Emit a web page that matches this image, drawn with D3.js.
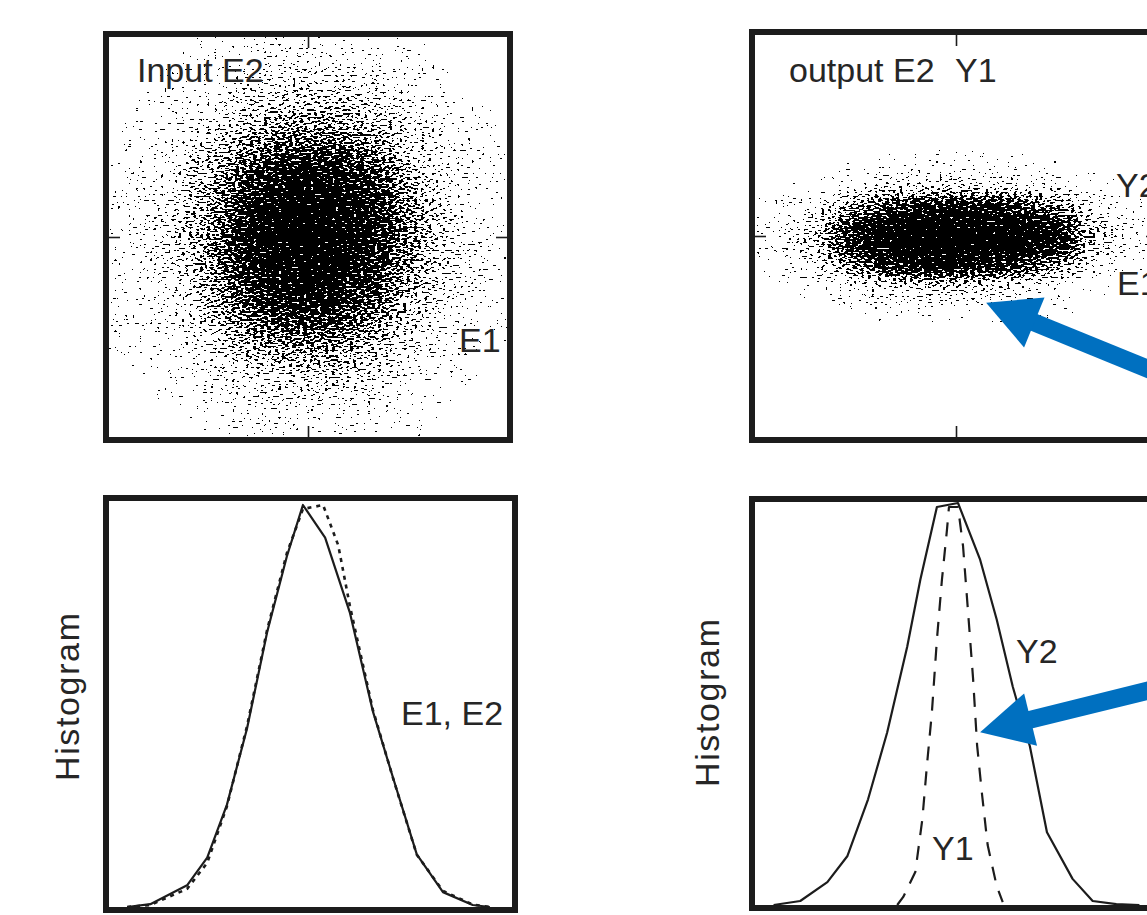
<!DOCTYPE html>
<html lang="en">
<head>
<meta charset="UTF-8" />
<title>Input / output scatter and histograms</title>
<script src="https://cdn.jsdelivr.net/npm/d3@7"></script>
<style>
  body { margin: 0; background: #fff; }
  text { font-family: "Liberation Sans", Arial, Helvetica, sans-serif; fill: #262626; }
</style>
</head>
<body>
<div id="chart"></div>
<script>
// ----------- Data ----------- //

// scatter clouds as density cells (normalised units)
var gridX = [-3.6, -2.8, -2.0, -1.2, -0.4, 0.4, 1.2, 2.0, 2.8, 3.6];

var inputRows = [3.6, 2.8, 2.0, 1.2, 0.4, -0.4, -1.2, -2.0, -2.8, -3.6];
var inputDensity = [
  [0.00, 0.00, 0.04, 0.08, 0.10, 0.12, 0.08, 0.04, 0.00, 0.00],
  [0.00, 0.04, 0.10, 0.20, 0.27, 0.29, 0.22, 0.12, 0.05, 0.00],
  [0.04, 0.08, 0.22, 0.42, 0.55, 0.56, 0.46, 0.26, 0.10, 0.04],
  [0.06, 0.13, 0.36, 0.70, 0.90, 0.90, 0.72, 0.42, 0.15, 0.06],
  [0.08, 0.18, 0.45, 0.85, 1.00, 1.00, 0.88, 0.52, 0.20, 0.07],
  [0.08, 0.18, 0.45, 0.85, 1.00, 1.00, 0.86, 0.50, 0.18, 0.07],
  [0.05, 0.13, 0.36, 0.70, 0.90, 0.88, 0.68, 0.38, 0.13, 0.05],
  [0.04, 0.08, 0.22, 0.44, 0.58, 0.56, 0.44, 0.24, 0.09, 0.03],
  [0.00, 0.04, 0.10, 0.20, 0.27, 0.27, 0.20, 0.11, 0.04, 0.00],
  [0.00, 0.00, 0.03, 0.07, 0.10, 0.10, 0.07, 0.04, 0.00, 0.00]
];

var outputRows = [1.4, 1.0, 0.6, 0.2, -0.2, -0.6, -1.0, -1.4];
var outputDensity = [
  [0.00, 0.00, 0.02, 0.05, 0.07, 0.07, 0.05, 0.02, 0.00, 0.00],
  [0.00, 0.03, 0.10, 0.18, 0.22, 0.22, 0.18, 0.10, 0.03, 0.00],
  [0.04, 0.12, 0.45, 0.72, 0.82, 0.82, 0.72, 0.48, 0.12, 0.03],
  [0.10, 0.28, 0.82, 1.00, 1.00, 1.00, 1.00, 0.85, 0.28, 0.08],
  [0.10, 0.28, 0.84, 1.00, 1.00, 1.00, 1.00, 0.85, 0.28, 0.08],
  [0.04, 0.15, 0.50, 0.82, 0.90, 0.86, 0.72, 0.45, 0.12, 0.03],
  [0.00, 0.05, 0.16, 0.24, 0.28, 0.26, 0.18, 0.10, 0.03, 0.00],
  [0.00, 0.00, 0.05, 0.08, 0.09, 0.08, 0.06, 0.03, 0.00, 0.00]
];

// histograms (peak = 1)
var e1X = [-3.64, -3.18, -2.45, -2.05, -1.66, -1.26, -0.86, -0.47, -0.15, 0.29, 0.78, 1.24, 1.64, 2.11, 2.63, 3.22, 3.56];
var e1Y = [0, 0.007, 0.054, 0.123, 0.254, 0.444, 0.684, 0.872, 1, 0.919, 0.733, 0.486, 0.321, 0.131, 0.037, 0.005, 0];

var e2X = [-3.64, -3.18, -2.45, -2.05, -1.66, -1.26, -0.86, -0.47, -0.15, 0.25, 0.55, 0.78, 1.24, 1.64, 2.11, 2.63, 3.22, 3.56];
var e2Y = [0, 0.005, 0.045, 0.11, 0.25, 0.45, 0.69, 0.88, 0.99, 1.0, 0.9, 0.75, 0.49, 0.32, 0.13, 0.04, 0.006, 0];

var y2X = [-3.63, -3.10, -2.56, -2.16, -1.75, -1.37, -0.97, -0.71, -0.38, 0.04, 0.48, 0.81, 1.13, 1.47, 1.81, 2.32, 2.72, 3.19, 3.65];
var y2Y = [0, 0.01, 0.057, 0.122, 0.263, 0.429, 0.643, 0.809, 0.99, 1.0, 0.859, 0.71, 0.543, 0.395, 0.181, 0.065, 0.01, 0.002, 0];

var y1X = [-1.17, -1.05, -0.81, -0.67, -0.58, -0.48, -0.38, -0.28, -0.18, -0.14, 0.04, 0.14, 0.24, 0.34, 0.42, 0.52, 0.63, 0.81, 0.93];
var y1Y = [0, 0.02, 0.082, 0.213, 0.345, 0.479, 0.66, 0.809, 0.933, 0.99, 0.99, 0.893, 0.729, 0.563, 0.397, 0.273, 0.149, 0.047, 0.007];

// blue call-out arrows: tip and tail in the panel's own units
var arrowScatter = { tip: [0.6, -1.33], tail: [4.2, -2.8] };
var arrowHist = { tip: [0.48, 0.43], tail: [4.2, 0.545] };

// ----------- Main SVG ----------- //

var width = 1147, height = 915;
var ink = "#1c1c1c";
var blue = "#0070c0";

var svg = d3.select("#chart").append("svg")
  .attr("width", width)
  .attr("height", height)
  .style("background", "white");

var defs = svg.append("defs");

// ----------- Scales ----------- //

var tlX = d3.scaleLinear().domain([-4, 4]).range([109, 507]);
var tlY = d3.scaleLinear().domain([-4, 4]).range([437, 37]);
var trX = d3.scaleLinear().domain([-4, 4]).range([755, 1157]);
var trY = d3.scaleLinear().domain([-4, 4]).range([437, 35]);
var blX = d3.scaleLinear().domain([-4, 4]).range([109, 512]);
var blY = d3.scaleLinear().domain([0, 1]).range([907, 505]);
var brX = d3.scaleLinear().domain([-4, 4]).range([755, 1157]);
var brY = d3.scaleLinear().domain([0, 1]).range([905, 503]);

// ----------- Scatter clouds ----------- //

// dithers the blurred density into specks, like a dense point cloud
function ditherFilter(id, x, y, blur) {
  var f = defs.append("filter").attr("id", id)
    .attr("filterUnits", "userSpaceOnUse")
    .attr("x", x.range()[0]).attr("y", y.range()[1])
    .attr("width", x.range()[1] - x.range()[0])
    .attr("height", y.range()[0] - y.range()[1])
    .attr("color-interpolation-filters", "sRGB");
  f.append("feGaussianBlur").attr("in", "SourceAlpha").attr("stdDeviation", blur).attr("result", "dens");
  f.append("feTurbulence").attr("type", "fractalNoise").attr("baseFrequency", "0.28 0.52")
    .attr("numOctaves", 1).attr("seed", 11).attr("result", "turb");
  f.append("feColorMatrix").attr("in", "turb").attr("type", "matrix")
    .attr("values", "0 0 0 0 0  0 0 0 0 0  0 0 0 0 0  2.2 0 0 0 -0.6").attr("result", "noise");
  f.append("feComposite").attr("in", "dens").attr("in2", "noise").attr("operator", "arithmetic")
    .attr("k1", 0).attr("k2", 40).attr("k3", -40).attr("k4", 0).attr("result", "diff");
  f.append("feComponentTransfer").attr("in", "diff")
    .append("feFuncA").attr("type", "discrete").attr("tableValues", "0 1");
}

function drawCloud(id, x, y, rows, density, rowStep, blur) {
  defs.append("clipPath").attr("id", id + "-clip")
    .append("rect")
    .attr("x", x.range()[0]).attr("y", y.range()[1])
    .attr("width", x.range()[1] - x.range()[0])
    .attr("height", y.range()[0] - y.range()[1]);
  ditherFilter(id + "-dither", x, y, blur);

  var cells = [];
  rows.forEach(function(ry, i) {
    gridX.forEach(function(gx, j) {
      cells.push({ x: gx, y: ry, d: density[i][j] });
    });
  });

  var colStep = gridX[1] - gridX[0];
  svg.append("g").attr("clip-path", "url(#" + id + "-clip)")
    .append("g").attr("filter", "url(#" + id + "-dither)")
    .selectAll("rect")
    .data(cells)
    .enter()
    .append("rect")
      .attr("x", function(d) { return x(d.x - colStep / 2); })
      .attr("y", function(d) { return y(d.y + rowStep / 2); })
      .attr("width", x(colStep) - x(0))
      .attr("height", y(0) - y(rowStep))
      .attr("fill", "black")
      .attr("fill-opacity", function(d) { return d.d; });
}

drawCloud("input", tlX, tlY, inputRows, inputDensity, 0.8, "15");
drawCloud("output", trX, trY, outputRows, outputDensity, 0.4, "15 7");

// ----------- Histogram curves ----------- //

function drawCurve(x, y, xs, ys, dash, w) {
  var line = d3.line()
    .x(function(d) { return x(d[0]); })
    .y(function(d) { return y(d[1]); });
  svg.append("path")
    .datum(d3.zip(xs, ys))
    .attr("d", line)
    .attr("fill", "none")
    .attr("stroke", ink)
    .attr("stroke-width", w)
    .attr("stroke-linejoin", "round")
    .attr("stroke-dasharray", dash);
}

drawCurve(blX, blY, e2X, e2Y, "4,5", 2.6);
drawCurve(blX, blY, e1X, e1Y, null, 2.2);
drawCurve(brX, brY, y1X, y1Y, "14,11", 2.2);
drawCurve(brX, brY, y2X, y2Y, null, 2.2);

// ----------- Frames & ticks ----------- //

function frame(x, y, pad) {
  var x0 = x.range()[0], x1 = x.range()[1];
  var y0 = d3.min(y.range()), y1 = d3.max(y.range());
  svg.append("rect")
    .attr("x", x0 - 3).attr("y", y0 - pad - 3)
    .attr("width", x1 - x0 + 6).attr("height", y1 - y0 + pad + 6)
    .attr("fill", "none")
    .attr("stroke", ink)
    .attr("stroke-width", 6);
}

frame(tlX, tlY, 0);
frame(trX, trY, 0);
frame(blX, blY, 4);
frame(brX, brY, 1);

function centreTicks(x, y) {
  var top = y.range()[1], bottom = y.range()[0];
  var left = x.range()[0], right = x.range()[1];
  var axes = [
    [d3.axisTop(x).tickValues([0]), "translate(0," + top + ")"],
    [d3.axisBottom(x).tickValues([0]), "translate(0," + bottom + ")"],
    [d3.axisLeft(y).tickValues([0]), "translate(" + left + ",0)"],
    [d3.axisRight(y).tickValues([0]), "translate(" + right + ",0)"]
  ];
  axes.forEach(function(a) {
    var g = svg.append("g")
      .attr("transform", a[1])
      .call(a[0].tickSize(-11).tickFormat(""));
    g.select(".domain").remove();
    g.selectAll("line").attr("stroke", ink).attr("stroke-width", 1.6);
  });
}

centreTicks(tlX, tlY);
centreTicks(trX, trY);

// ----------- Labels ----------- //

function label(txt, x, y, rotate) {
  var t = svg.append("text")
    .attr("font-size", 34)
    .text(txt);
  if (rotate) {
    t.attr("text-anchor", "middle")
      .attr("transform", "translate(" + x + "," + y + ") rotate(-90)");
  } else {
    t.attr("x", x).attr("y", y);
  }
  return t;
}

label("Input E2", 137, 82);
label("E1", 459, 352);
label("output E2", 789, 82);
label("Y1", 955, 82);
// these two run past the right edge, as in the reference
label("Y2", 1116, 197);
label("E1", 1117, 295);
label("E1, E2", 401, 725);
label("Y2", 1016, 663);
label("Y1", 932, 860);
label("Histogram", 79, 697, true).attr("textLength", 168);
label("Histogram", 719, 703, true).attr("textLength", 168);

// ----------- Arrows ----------- //

function arrow(x, y, a) {
  var tip = [x(a.tip[0]), y(a.tip[1])];
  var tail = [x(a.tail[0]), y(a.tail[1])];
  var dx = tail[0] - tip[0], dy = tail[1] - tip[1];
  var len = Math.sqrt(dx * dx + dy * dy);
  var ux = dx / len, uy = dy / len;
  var headLen = 52, headHalf = 27;
  var base = [tip[0] + ux * headLen, tip[1] + uy * headLen];
  svg.append("line")
    .attr("x1", base[0] - ux * 2).attr("y1", base[1] - uy * 2)
    .attr("x2", tail[0]).attr("y2", tail[1])
    .attr("stroke", blue)
    .attr("stroke-width", 18);
  svg.append("path")
    .attr("d", d3.line()([
      tip,
      [base[0] - uy * headHalf, base[1] + ux * headHalf],
      [base[0] + uy * headHalf, base[1] - ux * headHalf]
    ]) + "Z")
    .attr("fill", blue);
}

arrow(trX, trY, arrowScatter);
arrow(brX, brY, arrowHist);
</script>
</body>
</html>
